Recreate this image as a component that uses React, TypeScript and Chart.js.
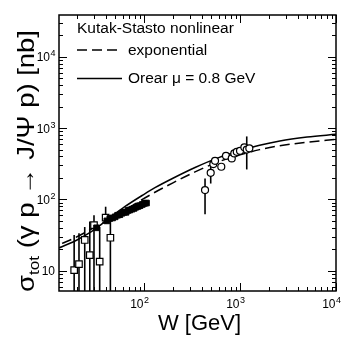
import React, { useEffect, useRef } from 'react';
import { Chart, registerables } from 'chart.js';

Chart.register(...registerables);

// ---- axis ranges ----
const X_MIN = 13;
const X_MAX = 10000;
const Y_MIN = 5.2;
const Y_MAX = 38500;

const xMajorTicks = [100, 1000, 10000];
const yMajorTicks = [10, 100, 1000, 10000];

// ---- model curves ----
const orearW = [13, 16, 20, 28, 40, 63, 100, 130, 200, 340, 600, 1000, 1600, 2600, 5000, 10000];
const orearSigma = [20.9, 23.5, 27, 35, 50, 79, 118, 146, 198, 280, 385, 480, 574, 661, 748, 818];

const expW = [14, 18.6, 28, 42, 63, 115, 200, 340, 600, 1000, 1600, 2600, 5000, 10000];
const expSigma = [24.2, 28.5, 38, 51, 71, 115, 171, 243, 338, 421, 499, 565, 634, 693];

// ---- fixed target data (open squares) ----
const fixW = [18.7, 21.0, 24.1, 27.2, 30.1, 34.5, 39.8, 44.6];
const fixSigma = [10.2, 12.4, 27, 16.6, 43.7, 13.4, 55.5, 29];
const fixHi = [31.6, 33.5, 41, 49, 60, 41, 79, 60];
const fixLo = [1, 1, 1, 1, 1, 1, 46, 1];

// ---- HERA data (filled squares) ----
const heraW = [32, 41, 44, 47, 50, 53, 56, 59, 62, 65, 68, 71, 75, 79, 83, 87, 91, 96, 101, 106];
const heraSigma = [40, 50, 54, 55, 57, 60, 61, 64, 66, 66, 70, 71, 73, 75, 78, 80, 82, 85, 88, 89];

// ---- LHC data (open circles) ----
const lhcW = [432, 495, 527, 549, 638, 714, 820, 872, 925, 1000, 1110, 1175, 1250];
const lhcSigma = [135, 236, 313, 348, 287, 409, 375, 441, 465, 480, 537, 500, 520];
const lhcHi = [196, 296, 340, 375, 310, 440, 405, 475, 500, 515, 575, 764, 560];
const lhcLo = [62, 167, 288, 322, 265, 380, 345, 410, 432, 447, 500, 263, 483];

const legendTitle = 'Kutak-Stasto nonlinear';
const legendExp = 'exponential';
const legendOrear = 'Orear \u03bc = 0.8 GeV';
const xTitle = 'W [GeV]';

const FONT = '"Liberation Sans", Arial, Helvetica, sans-serif';

const errorBars = [
  { w: fixW, hi: fixHi, lo: fixLo },
  { w: lhcW, hi: lhcHi, lo: lhcLo },
];

const errorBarPlugin = {
  id: 'errorBars',
  beforeDatasetsDraw(chart: any) {
    const { ctx, chartArea, scales } = chart;
    const xs = scales.x;
    const ys = scales.y;
    ctx.save();
    ctx.beginPath();
    ctx.rect(chartArea.left, chartArea.top, chartArea.right - chartArea.left, chartArea.bottom - chartArea.top);
    ctx.clip();
    ctx.strokeStyle = '#000';
    ctx.lineWidth = 1.6;
    errorBars.forEach((set) => {
      set.w.forEach((w, i) => {
        const x = xs.getPixelForValue(w);
        ctx.beginPath();
        ctx.moveTo(x, ys.getPixelForValue(set.hi[i]));
        ctx.lineTo(x, ys.getPixelForValue(set.lo[i]));
        ctx.stroke();
      });
    });
    ctx.restore();
  },
};

function drawPow(ctx: any, exp: string, x: number, y: number, align: 'right' | 'baseRight') {
  ctx.font = `12px ${FONT}`;
  const bw = ctx.measureText('10').width;
  ctx.font = `9px ${FONT}`;
  const ew = exp ? ctx.measureText(exp).width : 0;
  const left = align === 'right' ? x - bw - ew : x - bw;
  ctx.textAlign = 'left';
  ctx.textBaseline = 'alphabetic';
  ctx.font = `12px ${FONT}`;
  ctx.fillText('10', left, y);
  if (exp) {
    ctx.font = `9px ${FONT}`;
    ctx.fillText(exp, left + bw + 0.5, y - 5);
  }
}

const supMap: Record<number, string> = { 1: '', 2: '2', 3: '3', 4: '4' };

const axesPlugin = {
  id: 'axesDecor',
  afterDraw(chart: any) {
    const { ctx, chartArea, scales } = chart;
    const xs = scales.x;
    const ys = scales.y;
    const { left, right, top, bottom } = chartArea;
    ctx.save();
    ctx.strokeStyle = '#000';
    ctx.fillStyle = '#000';

    // frame
    ctx.lineWidth = 1.5;
    ctx.strokeRect(left, top, right - left, bottom - top);

    // ticks (inward, on all four sides)
    ctx.lineWidth = 1;
    const major = 8;
    const minor = 4;
    for (let d = 0; d <= 5; d++) {
      for (let k = 1; k <= 9; k++) {
        const v = k * Math.pow(10, d);
        const len = k === 1 ? major : minor;
        if (v >= X_MIN && v <= X_MAX) {
          const x = Math.round(xs.getPixelForValue(v)) + 0.5;
          ctx.beginPath();
          ctx.moveTo(x, bottom);
          ctx.lineTo(x, bottom - len);
          ctx.moveTo(x, top);
          ctx.lineTo(x, top + len);
          ctx.stroke();
        }
        if (v >= Y_MIN && v <= Y_MAX) {
          const y = Math.round(ys.getPixelForValue(v)) + 0.5;
          ctx.beginPath();
          ctx.moveTo(left, y);
          ctx.lineTo(left + len, y);
          ctx.moveTo(right, y);
          ctx.lineTo(right - len, y);
          ctx.stroke();
        }
      }
    }

    // tick labels
    xMajorTicks.forEach((v) => {
      const e = Math.round(Math.log10(v));
      drawPow(ctx, supMap[e] ?? String(e), xs.getPixelForValue(v) - 0.5, bottom + 17, 'baseRight');
    });
    yMajorTicks.forEach((v) => {
      const e = Math.round(Math.log10(v));
      drawPow(ctx, supMap[e] ?? String(e), left - 4, ys.getPixelForValue(v) + 4.5, 'right');
    });

    // x title
    ctx.font = `22px ${FONT}`;
    ctx.textAlign = 'center';
    ctx.textBaseline = 'alphabetic';
    ctx.fillText(xTitle, (left + right) / 2 + 2, 330);

    // y title (rotated, with subscript)
    const parts = [
      { t: '\u03c3', size: 24, dy: 0 },
      { t: 'tot', size: 15, dy: 5 },
      { t: ' (\u03b3 p \u2192 J/\u03a8 p) [nb]', size: 24, dy: 0 },
    ];
    let total = 0;
    const widths = parts.map((p) => {
      ctx.font = `${p.size}px ${FONT}`;
      const w = ctx.measureText(p.t).width;
      total += w;
      return w;
    });
    const target = 262;
    const stretch = total < target ? target / total : 1;
    ctx.save();
    ctx.translate(34, 161);
    ctx.rotate(-Math.PI / 2);
    ctx.scale(stretch, 1);
    ctx.textAlign = 'left';
    let cx = -total / 2;
    parts.forEach((p, i) => {
      ctx.font = `${p.size}px ${FONT}`;
      ctx.fillText(p.t, cx, p.dy);
      cx += widths[i];
    });
    ctx.restore();

    // legend
    ctx.font = `15.5px ${FONT}`;
    ctx.textAlign = 'left';
    ctx.fillText(legendTitle, 77, 33);
    ctx.fillText(legendExp, 128, 55);
    ctx.fillText(legendOrear, 128, 83);
    ctx.lineWidth = 1.5;
    ctx.setLineDash([10, 5]);
    ctx.beginPath();
    ctx.moveTo(77, 50);
    ctx.lineTo(122, 50);
    ctx.stroke();
    ctx.setLineDash([]);
    ctx.beginPath();
    ctx.moveTo(77, 78.5);
    ctx.lineTo(122, 78.5);
    ctx.stroke();

    ctx.restore();
  },
};

export default function App() {
  const ref = useRef<HTMLCanvasElement | null>(null);
  useEffect(() => {
    if (!ref.current) return;
    const toPts = (xs: number[], ys: number[]) => xs.map((x, i) => ({ x, y: ys[i] }));
    const chart = new Chart(ref.current, {
      type: 'scatter',
      data: {
        datasets: [
          {
            label: 'LHC',
            data: toPts(lhcW, lhcSigma),
            pointStyle: 'circle',
            pointRadius: 3.5,
            pointBackgroundColor: '#fff',
            pointBorderColor: '#000',
            pointBorderWidth: 1.2,
          },
          {
            label: 'HERA',
            data: toPts(heraW, heraSigma),
            pointStyle: 'rect',
            pointRadius: 4,
            pointBackgroundColor: '#000',
            pointBorderColor: '#000',
            pointBorderWidth: 1,
          },
          {
            label: 'fixed target',
            data: toPts(fixW, fixSigma),
            pointStyle: 'rect',
            pointRadius: 4.6,
            pointBackgroundColor: '#fff',
            pointBorderColor: '#000',
            pointBorderWidth: 1.2,
          },
          {
            label: 'exponential',
            data: toPts(expW, expSigma),
            showLine: true,
            borderColor: '#000',
            borderWidth: 1.5,
            borderDash: [10, 5],
            pointRadius: 0,
            cubicInterpolationMode: 'monotone',
          },
          {
            label: 'Orear',
            data: toPts(orearW, orearSigma),
            showLine: true,
            borderColor: '#000',
            borderWidth: 1.5,
            pointRadius: 0,
            cubicInterpolationMode: 'monotone',
          },
        ],
      },
      options: {
        animation: false,
        responsive: false,
        devicePixelRatio: 1,
        layout: { padding: { left: 59, right: 10, top: 15, bottom: 47 } },
        plugins: { legend: { display: false }, tooltip: { enabled: false } },
        scales: {
          x: { type: 'logarithmic', min: X_MIN, max: X_MAX, display: false },
          y: { type: 'logarithmic', min: Y_MIN, max: Y_MAX, display: false },
        },
      } as any,
      plugins: [errorBarPlugin, axesPlugin],
    });
    return () => chart.destroy();
  }, []);
  return (
    <div style={{ position: 'absolute', left: 0, top: 0, width: 346, height: 338, background: '#fff' }}>
      <canvas ref={ref} width={346} height={338} style={{ display: 'block' }} />
    </div>
  );
}
